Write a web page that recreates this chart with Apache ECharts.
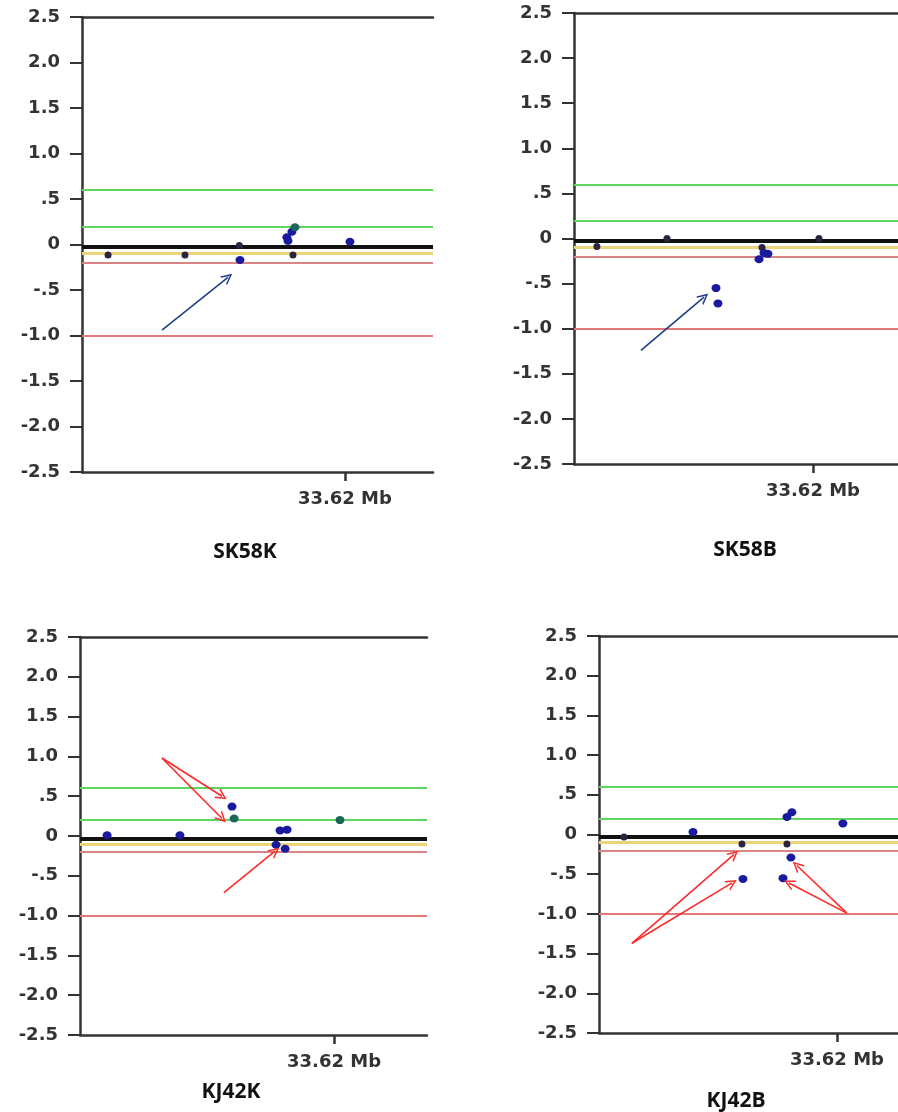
<!DOCTYPE html>
<html>
<head>
<meta charset="utf-8">
<script src="https://cdn.jsdelivr.net/npm/echarts@6/dist/echarts.min.js"></script>
<style>
html,body{margin:0;padding:0;background:#fff;}
#chart{width:898px;height:1112px;}
</style>
</head>
<body>
<div id="chart"></div>
<script>
// ---- data ----
const panelNames = ['SK58K', 'SK58B', 'KJ42K', 'KJ42B'];
const xTickValues = [33.62];
const xTickLabel = '33.62 Mb';
const yTickValues = [-2.5, -2, -1.5, -1, -0.5, 0, 0.5, 1, 1.5, 2, 2.5];
const yTickLabels = ['-2.5', '-2.0', '-1.5', '-1.0', '-.5', '0', '.5', '1.0', '1.5', '2.0', '2.5'];
const xMin = [33.50, 33.50, 33.50, 33.50];
const xMax = [33.6602, 33.6627, 33.6639, 33.6508];

// reference lines (log ratio thresholds)
const refGreen = [0.6, 0.2];
const refBaseline = -0.03;
const refYellow = -0.1;
const refRed = [-0.2, -1.0];

// probe values [position Mb, log ratio]
const sk58kBlue = [[33.5935, 0.08], [33.5940, 0.04], [33.5958, 0.14], [33.6223, 0.03], [33.5721, -0.17]];
const sk58kTeal = [[33.5972, 0.19]];
const sk58kDark = [[33.5119, -0.115], [33.5470, -0.115], [33.5963, -0.115], [33.5718, -0.01]];

const sk58bBlue = [[33.5713, -0.55], [33.5723, -0.72], [33.5929, -0.23], [33.5954, -0.16], [33.5974, -0.17]];
const sk58bTeal = [];
const sk58bDark = [[33.5115, -0.09], [33.5944, -0.10], [33.5467, 0.0], [33.6230, 0.0]];

const kj42kBlue = [[33.5128, 0.01], [33.5472, 0.01], [33.5718, 0.37], [33.5945, 0.07], [33.5978, 0.08], [33.5926, -0.11], [33.5969, -0.16]];
const kj42kTeal = [[33.5728, 0.22], [33.6228, 0.20]];
const kj42kDark = [];

const kj42bBlue = [[33.5474, 0.03], [33.5726, -0.56], [33.5948, 0.22], [33.5973, 0.28], [33.5968, -0.29], [33.5928, -0.55], [33.6230, 0.14]];
const kj42bTeal = [];
const kj42bDark = [[33.5126, -0.03], [33.5721, -0.12], [33.5948, -0.12]];

// annotation arrows [[x0,y0],[x1,y1]]
const sk58kArrows = [[[33.5365, -0.94], [33.5666, -0.36]]];
const sk58bArrows = [[[33.5336, -1.24], [33.5653, -0.65]]];
const kj42kArrows = [[[33.5387, 0.98], [33.5671, 0.50]], [[33.5387, 0.98], [33.5671, 0.22]], [[33.5680, -0.71], [33.5921, -0.19]]];
const kj42bArrows = [[[33.5166, -1.37], [33.5681, -0.25]], [[33.5166, -1.37], [33.5671, -0.61]], [[33.6250, -0.99], [33.5998, -0.39]], [[33.6250, -0.99], [33.5958, -0.61]]];

const blueSets = [sk58kBlue, sk58bBlue, kj42kBlue, kj42bBlue];
const tealSets = [sk58kTeal, sk58bTeal, kj42kTeal, kj42bTeal];
const darkSets = [sk58kDark, sk58bDark, kj42kDark, kj42bDark];
const arrowSets = [sk58kArrows, sk58bArrows, kj42kArrows, kj42bArrows];
const arrowColors = ['#1f3f8a', '#1f3f8a', '#ff2a2a', '#ff2a2a'];

// ---- layout ----
const grids = [
  {left: 82, top: 17, width: 351, height: 455},
  {left: 574, top: 13, width: 324, height: 451},
  {left: 80, top: 637, width: 347, height: 398},
  {left: 599, top: 636, width: 299, height: 397}
];
const titlePos = [[245, 552], [745, 550], [231, 1092], [736, 1101]];

const axisColor = '#333';
const labelFont = {fontFamily: 'DejaVu Sans', fontWeight: 'bold', fontSize: 18, color: '#333'};
const chevron = 'path://M0,12 L6,0 L12,12 L10.2,12 L6,3.6 L1.8,12 Z';

const xAxes = [], yAxes = [], series = [], graphics = [];
grids.forEach((g, i) => {
  xAxes.push({
    type: 'value', gridIndex: i, min: xMin[i], max: xMax[i], position: 'bottom',
    splitLine: {show: false},
    axisLine: {show: true, onZero: false, lineStyle: {color: axisColor, width: 2.5}},
    axisTick: {show: true, inside: false, customValues: xTickValues, length: 9, lineStyle: {color: axisColor, width: 2.5}},
    axisLabel: Object.assign({show: true, customValues: xTickValues, margin: 18, formatter: () => xTickLabel}, labelFont)
  });
  xAxes.push({
    type: 'value', gridIndex: i, min: xMin[i], max: xMax[i], position: 'top',
    splitLine: {show: false},
    axisLine: {show: true, onZero: false, lineStyle: {color: axisColor, width: 2.5}},
    axisTick: {show: false}, axisLabel: {show: false}
  });
  yAxes.push({
    type: 'value', gridIndex: i, min: -2.5, max: 2.5, interval: 0.5,
    splitLine: {show: false},
    axisLine: {show: true, onZero: false, lineStyle: {color: axisColor, width: 2.5}},
    axisTick: {show: true, length: 12, lineStyle: {color: axisColor, width: 2}},
    axisLabel: Object.assign({margin: 22, formatter: v => {
      const k = yTickValues.findIndex(t => Math.abs(t - v) < 1e-9);
      return k >= 0 ? yTickLabels[k] : '';
    }}, labelFont)
  });
  const xi = i * 2, yi = i;
  const refs = [
    {v: refGreen[0], c: '#5fd65f', w: 2},
    {v: refGreen[1], c: '#5fd65f', w: 2},
    {v: refYellow, c: '#ead57a', w: 3},
    {v: refRed[0], c: '#d98585', w: 2},
    {v: refRed[1], c: '#e27878', w: 2.2},
    {v: refBaseline, c: '#111', w: 4}
  ];
  series.push({
    type: 'lines', coordinateSystem: 'cartesian2d', xAxisIndex: xi, yAxisIndex: yi,
    polyline: false, silent: true, z: 1, symbol: 'none',
    data: refs.map(r => ({coords: [[xMin[i], r.v], [xMax[i], r.v]], lineStyle: {color: r.c, width: r.w, opacity: 1}}))
  });
  series.push({
    type: 'scatter', xAxisIndex: xi, yAxisIndex: yi, z: 3, symbolSize: 7,
    itemStyle: {color: '#2b2440', opacity: 1}, data: darkSets[i]
  });
  series.push({
    type: 'scatter', xAxisIndex: xi, yAxisIndex: yi, z: 4, symbolSize: [9, 8],
    itemStyle: {color: '#1a1a9e', opacity: 1}, data: blueSets[i]
  });
  series.push({
    type: 'scatter', xAxisIndex: xi, yAxisIndex: yi, z: 4, symbolSize: [9, 8],
    itemStyle: {color: '#1d6658', opacity: 1}, data: tealSets[i]
  });
  series.push({
    type: 'lines', coordinateSystem: 'cartesian2d', xAxisIndex: xi, yAxisIndex: yi,
    polyline: false, silent: true, z: 5,
    symbol: ['none', chevron], symbolSize: [11, 11],
    lineStyle: {color: arrowColors[i], width: 1.6, opacity: 1},
    data: arrowSets[i].map(a => ({coords: a}))
  });
  graphics.push({
    type: 'text', x: titlePos[i][0], y: titlePos[i][1],
    style: {text: panelNames[i], fontFamily: 'Open Sans', fontWeight: 700, fontSize: 21, fill: '#111', align: 'center', verticalAlign: 'middle'}
  });
});

const chart = echarts.init(document.getElementById('chart'), null, {renderer: 'canvas'});
chart.setOption({
  animation: false,
  backgroundColor: '#fff',
  grid: grids.map(g => Object.assign({containLabel: false}, g)),
  xAxis: xAxes,
  yAxis: yAxes,
  series: series,
  graphic: graphics
});
</script>
</body>
</html>
